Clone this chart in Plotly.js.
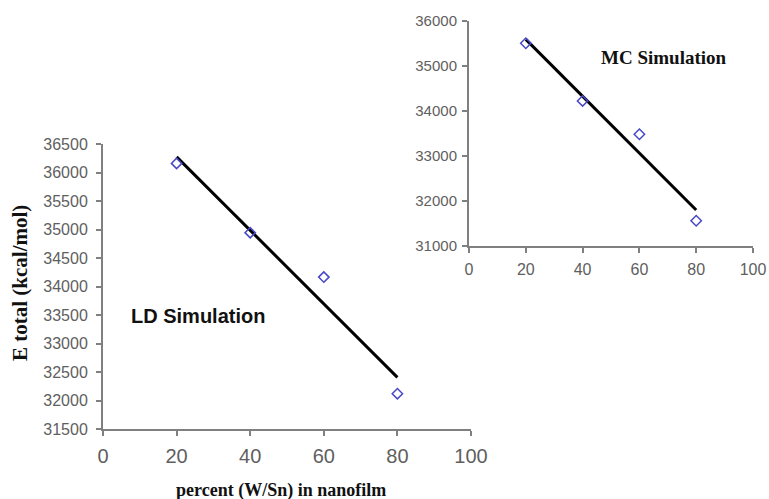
<!DOCTYPE html>
<html>
<head>
<meta charset="utf-8">
<script src="https://cdn.plot.ly/plotly-3.0.1.min.js"></script>
<style>html,body{margin:0;padding:0;background:#fff;}#chart{width:769px;height:499px;}</style>
</head>
<body>
<div id="chart"></div>
<script>
// Data
const percent = [20, 40, 60, 80];
const ldEnergy = [36160, 34945, 34165, 32120];
const mcEnergy = [35500, 34220, 33480, 31560];
// Linear trend line endpoints (as drawn)
const trendX = [20, 80];
const ldTrend = [36275, 32405];
const mcTrend = [35585, 31800];
const ldYTicks = [31500, 32000, 32500, 33000, 33500, 34000, 34500, 35000, 35500, 36000, 36500];
const mcYTicks = [31000, 32000, 33000, 34000, 35000, 36000];
const xTicks = [0, 20, 40, 60, 80, 100];

const markerStyle = {symbol: 'diamond-open', size: 8, color: '#4848c8', line: {width: 1.5, color: '#4848c8'}};
const traces = [
  {x: trendX, y: ldTrend, mode: 'lines', line: {color: '#000', width: 3}, xaxis: 'x', yaxis: 'y', hoverinfo: 'skip'},
  {x: percent, y: ldEnergy, mode: 'markers', marker: markerStyle, xaxis: 'x', yaxis: 'y', name: 'LD'},
  {x: trendX, y: mcTrend, mode: 'lines', line: {color: '#000', width: 3}, xaxis: 'x2', yaxis: 'y2', hoverinfo: 'skip'},
  {x: percent, y: mcEnergy, mode: 'markers', marker: markerStyle, xaxis: 'x2', yaxis: 'y2', name: 'MC'}
];

const axisBase = {
  showgrid: false, zeroline: false, showline: true, linecolor: '#808080', linewidth: 2,
  ticks: 'outside', ticklen: 5, tickwidth: 2, tickcolor: '#808080', fixedrange: true, tickformat: 'd'
};
const tickFont = (s) => ({family: 'Liberation Sans, Arial, sans-serif', size: s, color: '#606060'});

const layout = {
  width: 769, height: 499, margin: {l: 0, r: 0, t: 0, b: 0},
  paper_bgcolor: '#fff', plot_bgcolor: 'rgba(0,0,0,0)', showlegend: false,
  xaxis: Object.assign({}, axisBase, {domain: [103/769, 471/769], range: [0, 100], tickvals: xTicks, anchor: 'y', tickfont: tickFont(20), ticklabelstandoff: 3}),
  yaxis: Object.assign({}, axisBase, {domain: [1-429/499, 1-144/499], range: [31500, 36500], tickvals: ldYTicks, anchor: 'x', tickfont: tickFont(16), ticklabelstandoff: 5}),
  xaxis2: Object.assign({}, axisBase, {domain: [469/769, 753/769], range: [0, 100], tickvals: xTicks, anchor: 'y2', tickfont: tickFont(16), ticklabelstandoff: 3}),
  yaxis2: Object.assign({}, axisBase, {domain: [1-246/499, 1-20.7/499], range: [31000, 36000], tickvals: mcYTicks, anchor: 'x2', tickfont: tickFont(15), ticklabelstandoff: 2}),
  annotations: [
    {text: '<b>E total (kcal/mol)</b>', xref: 'paper', yref: 'paper', x: 20/769, y: 1-283/499, textangle: -90, showarrow: false,
     font: {family: 'Liberation Serif, Times New Roman, serif', size: 21, color: '#111'}, xanchor: 'center', yanchor: 'middle'},
    {text: '<b>percent (W/Sn) in nanofilm</b>', xref: 'paper', yref: 'paper', x: 281/769, y: 1-490/499, showarrow: false,
     font: {family: 'Liberation Serif, Times New Roman, serif', size: 18, color: '#111'}, xanchor: 'center', yanchor: 'middle'},
    {text: '<b>LD Simulation</b>', xref: 'paper', yref: 'paper', x: 198/769, y: 1-316/499, showarrow: false,
     font: {family: 'Liberation Sans, Arial, sans-serif', size: 20, color: '#111'}, xanchor: 'center', yanchor: 'middle'},
    {text: '<b>MC Simulation</b>', xref: 'paper', yref: 'paper', x: 664/769, y: 1-57/499, showarrow: false,
     font: {family: 'Liberation Serif, Times New Roman, serif', size: 19, color: '#111'}, xanchor: 'center', yanchor: 'middle'}
  ]
};

Plotly.newPlot('chart', traces, layout, {displayModeBar: false, staticPlot: true});
</script>
</body>
</html>
